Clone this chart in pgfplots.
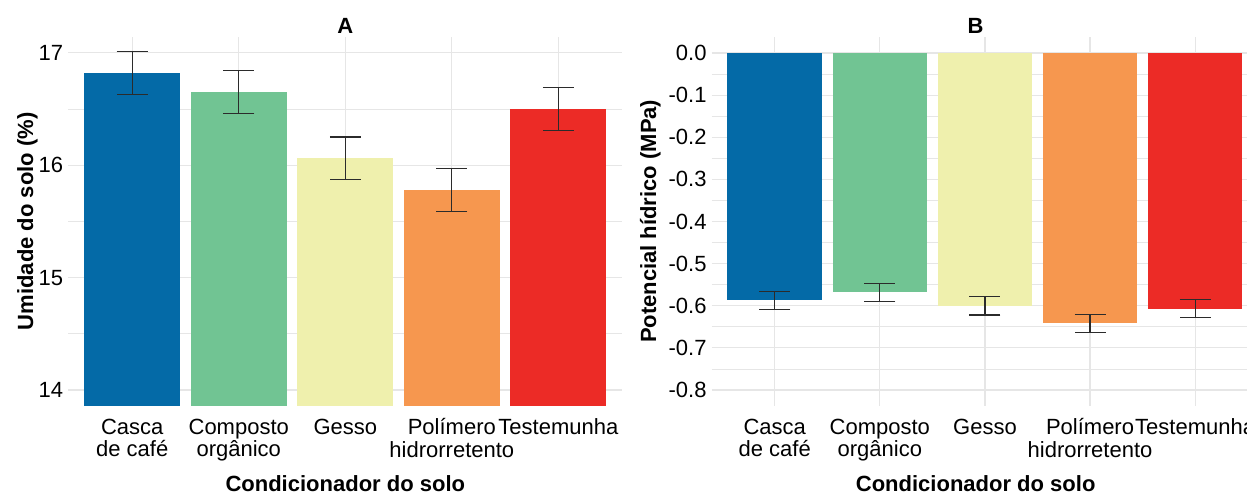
\documentclass[border=0pt]{standalone}
\usepackage{pgfplots}
\pgfplotsset{compat=1.18}
\usepackage{fontspec}
\setmainfont{Liberation Sans}
\definecolor{cblue}{HTML}{046AA7}
\definecolor{cgreen}{HTML}{71C493}
\definecolor{cyellow}{HTML}{EFF0AD}
\definecolor{corange}{HTML}{F6974F}
\definecolor{cred}{HTML}{EC2B26}
\definecolor{gridc}{HTML}{E6E6E6}
\definecolor{errc}{HTML}{2B2B2B}
\begin{document}
\begin{tikzpicture}
\pgfplotsset{
 every axis title shift=0pt,
 myax/.style={
  scale only axis, height=184.65pt,
  xmin=0.4, xmax=5.6, xtick={1,2,3,4,5},
  xticklabels={{Casca\\de café},{Composto\\orgânico},{Gesso},{Polímero\\hidrorretento},{Testemunha}},
  axis line style={draw=none}, major tick length=0pt, minor tick length=0pt,
  xmajorgrids, ymajorgrids, yminorgrids,
  major grid style={color=gridc, line width=0.6pt},
  minor grid style={color=gridc, line width=0.35pt},
  tick label style={font=\fontsize{11}{11.15}\selectfont},
  xticklabel style={align=center, anchor=north, inner sep=0pt, yshift=-6.15pt},
  yticklabel style={anchor=east, inner sep=0pt, xshift=-2.4pt},
  label style={font=\fontsize{11}{13.4}\selectfont\bfseries},
  title style={font=\fontsize{11}{13.4}\selectfont\bfseries, anchor=base, yshift=1.7pt},
  xlabel={Condicionador do solo},
  clip=true,
 },
 bar/.style={ybar, bar width=0.9, bar shift=0pt, draw=none, fill=#1},
 err/.style={draw=none, mark=none, forget plot,
   error bars/.cd, y dir=both, y explicit, error mark=|,
   error bar style={draw=errc, line width=0.6pt},
   error mark options={draw=errc, line width=0.6pt, mark size=7.75pt}},
}
% Panel A
\begin{axis}[myax, at={(34.15pt,44pt)}, anchor=south west, width=277pt,
  ymin=13.858, ymax=17.142,
  ytick={14,15,16,17}, yticklabels={14,15,16,17},
  minor ytick={14.5,15.5,16.5},
  title={A}, title style={at={(axis description cs:0.5,1)}},
  xlabel style={at={(axis description cs:0.5,0)}, anchor=base, yshift=-42.8pt},
  ylabel={Umidade do solo (\%)},
  ylabel style={at={(axis description cs:-0.0637,0.5)}, anchor=base},
]
\addplot[bar=cblue] coordinates {(1,16.82)};
\addplot[bar=cgreen] coordinates {(2,16.65)};
\addplot[bar=cyellow] coordinates {(3,16.06)};
\addplot[bar=corange] coordinates {(4,15.78)};
\addplot[bar=cred] coordinates {(5,16.50)};
\addplot[err] coordinates {
 (1,16.82) +- (0,0.19)
 (2,16.65) +- (0,0.19)
 (3,16.06) +- (0,0.19)
 (4,15.78) +- (0,0.19)
 (5,16.50) +- (0,0.19)
};
\end{axis}
% Panel B
\begin{axis}[myax, at={(355.85pt,44pt)}, anchor=south west, width=273.25pt,
  ymin=-0.838, ymax=0.0387,
  ytick={-0.8,-0.7,-0.6,-0.5,-0.4,-0.3,-0.2,-0.1,0},
  yticklabels={-0.8,-0.7,-0.6,-0.5,-0.4,-0.3,-0.2,-0.1,0.0},
  minor ytick={-0.75,-0.65,-0.55,-0.45,-0.35,-0.25,-0.15,-0.05},
  title={B}, title style={at={(axis description cs:0.483,1)}},
  xlabel style={at={(axis description cs:0.483,0)}, anchor=base, yshift=-42.8pt},
  ylabel={Potencial hídrico (MPa)},
  ylabel style={at={(axis description cs:-0.1019,0.5)}, anchor=base},
]
\addplot[bar=cblue] coordinates {(1,-0.587)};
\addplot[bar=cgreen] coordinates {(2,-0.568)};
\addplot[bar=cyellow] coordinates {(3,-0.600)};
\addplot[bar=corange] coordinates {(4,-0.642)};
\addplot[bar=cred] coordinates {(5,-0.607)};
\addplot[err] coordinates {
 (1,-0.587) +- (0,0.021)
 (2,-0.568) +- (0,0.021)
 (3,-0.600) +- (0,0.022)
 (4,-0.642) +- (0,0.021)
 (5,-0.607) +- (0,0.021)
};
\end{axis}
\pgfresetboundingbox
\path[use as bounding box] (0,0) rectangle (623.5pt,247pt);
\end{tikzpicture}
\end{document}
